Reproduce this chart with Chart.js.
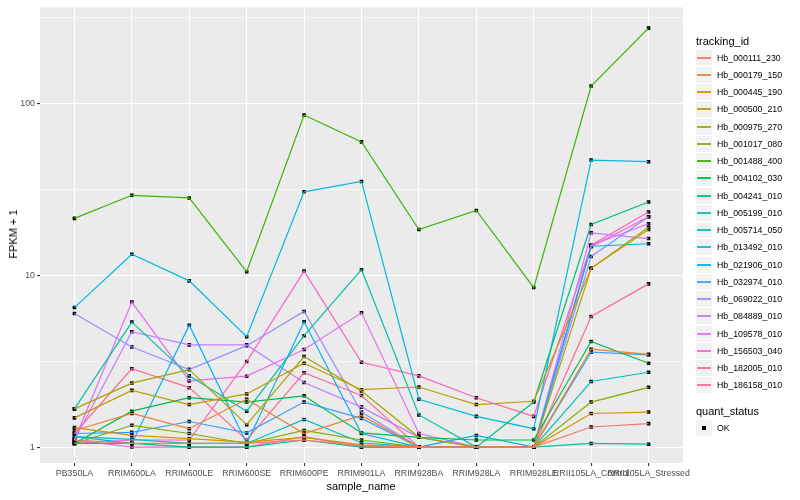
<!DOCTYPE html>
<html lang="en">
<head>
<meta charset="UTF-8">
<title>FPKM + 1 by sample_name</title>
<script src="https://cdn.jsdelivr.net/npm/chart.js"></script>
<style>
    body { margin: 0; background: #fff; font-family: "Liberation Sans", Arial, sans-serif; }
    #wrap { position: relative; width: 800px; height: 500px; }
    #chart { position: absolute; left: 0; top: 0; }
    .axis-title { position: absolute; font-size: 11px; color: #000; white-space: nowrap; }
    #xtitle { left: 361px; top: 480px; transform: translateX(-50%); }
    #ytitle { left: 13px; top: 234px; transform: translate(-50%, -50%) rotate(-90deg); }
    #legend { position: absolute; left: 696px; top: 33px; }
    .leg-title { font-size: 11px; color: #000; height: 16px; line-height: 16px; }
    .leg-item { height: 17.25px; display: flex; align-items: center; }
    .leg-key { width: 16px; height: 16px; background: #f2f2f2; position: relative; margin-right: 5px; }
    .leg-key span { position: absolute; left: 1px; right: 1px; top: 7px; height: 2px; opacity: 0.9; }
    .leg-key i { position: absolute; left: 6px; top: 6px; width: 4px; height: 4px; background: #000; }
    .leg-label { font-size: 8.8px; color: #000; }
</style>
</head>
<body>
<div id="wrap">
    <canvas id="chart" width="800" height="500"></canvas>
    <div id="xtitle" class="axis-title">sample_name</div>
    <div id="ytitle" class="axis-title">FPKM + 1</div>
    <div id="legend"></div>
</div>
<script>
    // x categories
    const samples = ['PB350LA', 'RRIM600LA', 'RRIM600LE', 'RRIM600SE', 'RRIM600PE', 'RRIM901LA',
        'RRIM928BA', 'RRIM928LA', 'RRIM928LE', 'RRII105LA_Control', 'RRII105LA_Stressed'];

    const trackingIds = ['Hb_000111_230', 'Hb_000179_150', 'Hb_000445_190', 'Hb_000500_210', 'Hb_000975_270',
        'Hb_001017_080', 'Hb_001488_400', 'Hb_004102_030', 'Hb_004241_010', 'Hb_005199_010',
        'Hb_005714_050', 'Hb_013492_010', 'Hb_021906_010', 'Hb_032974_010', 'Hb_069022_010',
        'Hb_084889_010', 'Hb_109578_010', 'Hb_156503_040', 'Hb_182005_010', 'Hb_186158_010'];

    // FPKM + 1 per gene, one value per sample
    const hb_000111_230 = [1.1, 1.05, 1.05, 1.05, 1.1, 1.02, 1.0, 1.0, 1.0, 1.31, 1.37];
    const hb_000179_150 = [1.25, 1.57, 1.28, 1.9, 1.2, 1.53, 1.0, 1.0, 1.0, 3.72, 3.47];
    const hb_000445_190 = [1.3, 1.17, 1.12, 1.07, 1.14, 1.03, 1.0, 1.0, 1.0, 1.57, 1.6];
    const hb_000500_210 = [1.48, 2.14, 1.77, 2.04, 3.08, 2.16, 2.24, 1.77, 1.85, 11.0, 18.5];
    const hb_000975_270 = [1.67, 2.36, 2.83, 1.35, 3.37, 2.12, 1.14, 1.0, 1.0, 11.0, 19.1];
    const hb_001017_080 = [1.05, 1.34, 1.2, 1.05, 1.25, 1.1, 1.0, 1.0, 1.0, 1.83, 2.23];
    const hb_001488_400 = [21.5, 29.3, 28.3, 10.5, 86, 60, 18.5, 23.9, 8.5, 127, 276];
    const hb_004102_030 = [1.05, 1.62, 1.94, 1.83, 1.99, 1.21, 1.14, 1.1, 1.1, 4.12, 3.08];
    const hb_004241_010 = [1.05, 1.05, 1.0, 1.0, 1.1, 1.0, 1.0, 1.0, 1.83, 19.8, 26.8];
    const hb_005199_010 = [1.67, 5.35, 2.6, 1.62, 4.46, 10.8, 1.54, 1.0, 1.0, 1.05, 1.04];
    const hb_005714_050 = [1.15, 1.11, 1.05, 1.05, 1.45, 1.06, 1.0, 1.0, 1.0, 2.41, 2.73];
    const hb_013492_010 = [6.5, 13.3, 9.3, 4.4, 30.7, 35.3, 1.9, 1.51, 1.28, 47, 46];
    const hb_021906_010 = [1.15, 1.05, 5.13, 1.05, 5.37, 1.2, 1.0, 1.17, 1.0, 14.8, 15.3];
    const hb_032974_010 = [1.2, 1.22, 1.41, 1.21, 1.83, 1.47, 1.0, 1.0, 1.0, 3.57, 3.45];
    const hb_069022_010 = [6.0, 3.83, 2.83, 3.9, 6.17, 1.6, 1.0, 1.0, 1.0, 12.9, 22.0];
    const hb_084889_010 = [1.1, 4.7, 3.94, 3.94, 2.38, 1.71, 1.14, 1.0, 1.0, 17.7, 16.4];
    const hb_109578_010 = [1.1, 7.0, 2.43, 2.59, 3.7, 6.06, 1.2, 1.0, 1.0, 15.0, 20.0];
    const hb_156503_040 = [1.1, 1.0, 1.0, 1.0, 1.15, 1.0, 1.0, 1.0, 1.0, 14.7, 22.0];
    const hb_182005_010 = [1.05, 1.1, 1.1, 3.15, 10.6, 3.12, 2.6, 1.94, 1.51, 15.0, 23.4];
    const hb_186158_010 = [1.2, 2.86, 2.22, 1.1, 2.71, 2.0, 1.0, 1.0, 1.0, 5.77, 8.93];

    const seriesValues = [hb_000111_230, hb_000179_150, hb_000445_190, hb_000500_210, hb_000975_270,
        hb_001017_080, hb_001488_400, hb_004102_030, hb_004241_010, hb_005199_010,
        hb_005714_050, hb_013492_010, hb_021906_010, hb_032974_010, hb_069022_010,
        hb_084889_010, hb_109578_010, hb_156503_040, hb_182005_010, hb_186158_010];

    // y ticks (log scale): labelled ones and minor grid between
    const yTickLabels = [1, 10, 100];
    const yMinorTicks = [3.1623, 31.623, 316.23];
    const quantStatus = ['OK'];

    // ggplot hue palette for 20 levels
    const palette = ['#F8766D', '#EA8331', '#D89000', '#C09B00', '#A3A500', '#7CAE00', '#39B600', '#00BB4E',
        '#00BF7D', '#00C1A3', '#00BFC4', '#00BAE0', '#00B0F6', '#35A2FF', '#9590FF', '#C77CFF',
        '#E76BF3', '#FA62DB', '#FF62BC', '#FF6C91'];

    const toPoints = vals => vals.map((v, i) => ({ x: i, y: v }));

    const lineSets = trackingIds.map((id, k) => ({
        label: id,
        data: toPoints(seriesValues[k]),
        borderColor: palette[k],
        borderWidth: 1.2,
        pointRadius: 0,
        tension: 0,
        fill: false
    }));
    const pointSets = trackingIds.map((id, k) => ({
        label: id + ' ' + quantStatus[0],
        data: toPoints(seriesValues[k]),
        showLine: false,
        pointStyle: 'rect',
        pointRadius: 2.5,
        pointBackgroundColor: '#000',
        pointBorderWidth: 0
    }));

    const panelBg = {
        id: 'panelBg',
        beforeDraw(chart) {
            const a = chart.chartArea, c = chart.ctx;
            c.save();
            c.fillStyle = '#EBEBEB';
            c.fillRect(a.left, a.top, a.right - a.left, a.bottom - a.top);
            c.restore();
        }
    };

    new Chart(document.getElementById('chart'), {
        type: 'line',
        data: { datasets: lineSets.concat(pointSets) },
        plugins: [panelBg],
        options: {
            responsive: false,
            animation: false,
            devicePixelRatio: 1,
            layout: { padding: { left: 0, top: 5, right: 117, bottom: 0 } },
            plugins: { legend: { display: false }, tooltip: { enabled: false } },
            scales: {
                x: {
                    type: 'linear',
                    min: -0.6,
                    max: samples.length - 0.4,
                    afterBuildTicks: s => { s.ticks = samples.map((_, i) => ({ value: i })); },
                    afterFit: s => { s.height = 37; },
                    border: { display: false },
                    grid: { color: '#FFFFFF', lineWidth: 1.1, tickColor: '#333333', tickLength: 3 },
                    ticks: {
                        autoSkip: false, maxRotation: 0, padding: 2,
                        color: '#4D4D4D', font: { family: '"Liberation Sans", Arial', size: 8.8 },
                        callback: v => samples[v]
                    }
                },
                y: {
                    type: 'logarithmic',
                    min: 0.808,
                    max: 365,
                    afterBuildTicks: s => {
                        s.ticks = yTickLabels.concat(yMinorTicks).sort((a, b) => a - b).map(v => ({ value: v }));
                    },
                    afterFit: s => { s.width = 40; },
                    border: { display: false },
                    grid: {
                        color: '#FFFFFF',
                        lineWidth: c => yTickLabels.includes(c.tick && c.tick.value) ? 1.1 : 0.55,
                        tickColor: c => yTickLabels.includes(c.tick && c.tick.value) ? '#333333' : 'rgba(0,0,0,0)',
                        tickLength: 3
                    },
                    ticks: {
                        padding: 2,
                        color: '#4D4D4D', font: { family: '"Liberation Sans", Arial', size: 8.8 },
                        callback: v => yTickLabels.includes(v) ? String(v) : ''
                    }
                }
            }
        }
    });

    // ggplot-style legend
    const legend = document.getElementById('legend');
    let html = '<div class="leg-title">tracking_id</div>';
    trackingIds.forEach((id, k) => {
        html += '<div class="leg-item"><div class="leg-key"><span style="background:' + palette[k] +
            '"></span></div><div class="leg-label">' + id + '</div></div>';
    });
    html += '<div style="height:9px"></div><div class="leg-title">quant_status</div>';
    quantStatus.forEach(q => {
        html += '<div class="leg-item"><div class="leg-key"><i></i></div><div class="leg-label">' + q + '</div></div>';
    });
    legend.innerHTML = html;
</script>
</body>
</html>
